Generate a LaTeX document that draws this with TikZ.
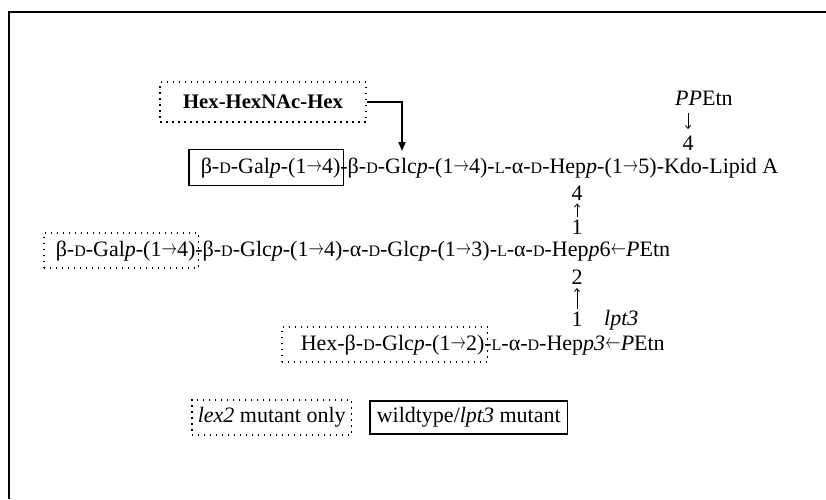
\documentclass[tikz,border=0pt]{standalone}
\usepackage{fontspec}
\setmainfont{Liberation Serif}
\usetikzlibrary{arrows.meta}
\newcommand{\Dsc}{{\fontsize{16}{18}\selectfont D}}
\newcommand{\Lsc}{{\fontsize{16}{18}\selectfont L}}
\newcommand{\ra}{\raisebox{1.5pt}{\scalebox{0.75}[1]{$\rightarrow$}}}
\newcommand{\la}{\raisebox{1.5pt}{\scalebox{0.75}[1]{$\leftarrow$}}}
\tikzset{
  txt/.style={inner sep=0pt, anchor=base west},
  solidbox/.style={draw, line width=1.5pt, inner xsep=3pt, minimum height=36pt},
  dotbox/.style={draw, line width=1.5pt, dash pattern=on 1.5pt off 4.5pt, inner xsep=3pt, minimum height=35pt},
  num/.style={inner sep=0pt},
  link/.style={line width=0.8pt, shorten <=3pt, shorten >=3pt, -{Straight Barb[length=3pt,width=5pt]}},
}
\begin{document}
\begin{tikzpicture}[x=1pt, y=-1pt, font=\fontsize{22}{26}\selectfont]
\useasboundingbox (0,0) rectangle (826,499);
% frame
\draw[line width=2pt] (826,11.5) -- (8.5,11.5) -- (8.5,499);

% extra chain of the lex2 mutant
\node[dotbox, minimum width=206pt, minimum height=40pt, font=\bfseries\fontsize{20.7}{24}\selectfont] (hex) at (263,102) {Hex-HexNAc-Hex};
\coordinate (hexin) at (402,151);
\draw[line width=1.5pt, -{Triangle[length=9pt,width=7pt]}] (hex.east) -| (hexin);

% row 1
\node[solidbox, anchor=base west] (gal1) at (188,173) {\hspace{9pt}β-\Dsc-Gal\textit{p}-(1\ra4)};
\node[txt] (row1) at ([xshift=-4pt]gal1.base east) {-β-\Dsc-Glc\textit{p}-(1\ra4)-\Lsc-α-\Dsc-Hep\textit{p}-(1\ra5)-Kdo-Lipid A};
\node[txt] (ppetn) at (675,105) {\textit{PP}Etn};
\node[num] (kdo4) at (688,143.5) {4};
\draw[link, shorten <=8pt, shorten >=7pt] (ppetn.south -| kdo4) -- (kdo4);
\node[num] (hep4) at (577,193) {4};
\node[num] (hep1) at (577,227.5) {1};
\draw[link] (hep1) -- (hep4);

% row 2
\node[dotbox, anchor=base west] (gal2) at (43,256) {\hspace{9pt}β-\Dsc-Gal\textit{p}-(1\ra4)};
\node[txt] (row2) at ([xshift=-4pt]gal2.base east) {-β-\Dsc-Glc\textit{p}-(1\ra4)-α-\Dsc-Glc\textit{p}-(1\ra3)-\Lsc-α-\Dsc-Hep\textit{p}6\la\textit{P}Etn};
\node[num] (hep2) at (577,277.5) {2};
\node[num] (hep1b) at (577,319) {1};
\draw[link] (hep1b) -- (hep2);
\node[txt] (lpt) at (604,325) {\textit{lpt3}};

% row 3
\node[dotbox, anchor=base west] (hexglc) at (281,350) {\hspace{16pt}Hex-β-\Dsc-Glc\textit{p}-(1\ra2)};
\node[txt] (row3) at ([xshift=-4pt]hexglc.base east) {-\Lsc-α-\Dsc-Hep\textit{p3}\la\textit{P}Etn};

% legend
\node[dotbox, anchor=west, inner xsep=6pt, minimum height=35pt] (lex) at (191,417.5) {\textit{lex2} mutant only};
\node[solidbox, anchor=west, inner xsep=7pt, minimum height=33pt] (wt) at (369,417.5) {wildtype/\textit{lpt3} mutant};
\end{tikzpicture}
\end{document}
